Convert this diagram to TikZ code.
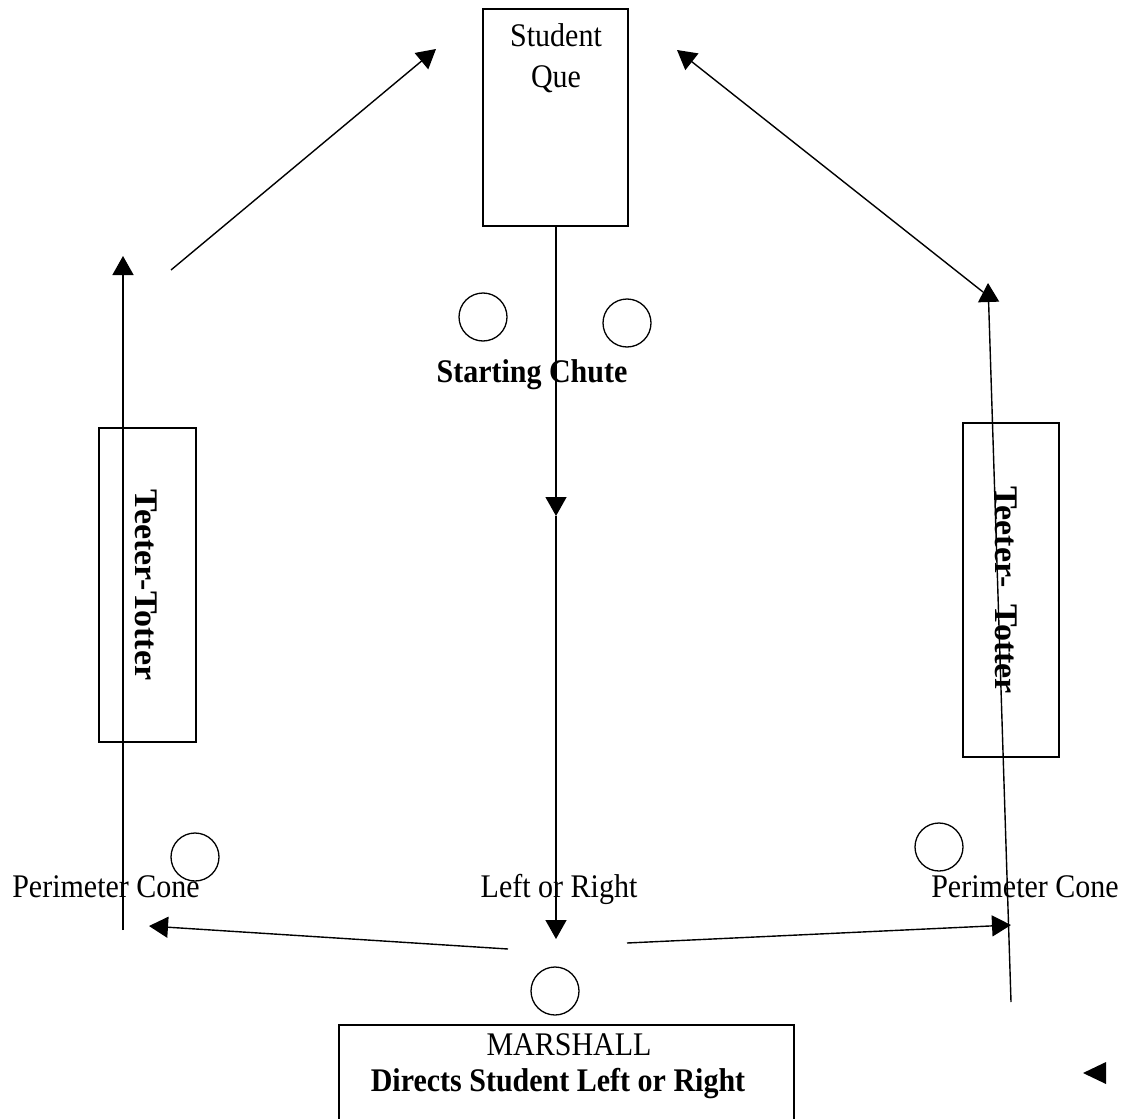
\documentclass[tikz,border=0pt]{standalone}
\usepackage{fontspec}
\setmainfont{Liberation Serif}
\usetikzlibrary{arrows.meta}
\newcommand{\vst}[1]{\scalebox{1}[1.1]{#1}}
\begin{document}
\begin{tikzpicture}[x=1pt,y=-1pt,
  txt/.style={font=\fontsize{30}{36}\selectfont, inner sep=0pt, anchor=base},
  btxt/.style={txt, font=\fontsize{30}{36}\selectfont\bfseries},
  rtxt/.style={inner sep=0pt, rotate=-90, anchor=center, font=\fontsize{33}{40}\selectfont\bfseries},
  box/.style={draw, line width=1.4pt, inner sep=0pt},
  cone/.style={draw, circle, line width=1.3pt, minimum size=48pt, inner sep=0pt},
  conn/.style={line width=1.4pt},
  arr/.style={conn, -{Triangle[length=19pt,width=21pt]}}]
\useasboundingbox (0,0) rectangle (1123,1118);
\clip (0,0) rectangle (1123,1118);
% boxes
\node[box, minimum width=145pt, minimum height=217pt] (que) at (555.5,117.5) {};
\node[txt] (t1) at (556,47) {\vst{Student}};
\node[txt] (t2) at (556,88) {\vst{Que}};
\node[box, minimum width=97pt, minimum height=314pt] (tl) at (147.5,585) {};
\node[rtxt] (tlt) at (146,585) {\scalebox{1.03}[1]{Teeter-Totter}};
\node[box, minimum width=96pt, minimum height=334pt] (tr) at (1011,590) {};
\node[rtxt] (trt) at (1006,590) {\scalebox{1.03}[1]{Teeter-\ \ Totter}};
\node[box, minimum width=455pt, minimum height=140pt] (mar) at (566.5,1095) {};
\node[txt] (m1) at (569,1055) {\vst{MARSHALL}};
\node[btxt] (m2) at (558,1091) {\vst{Directs Student Left or Right}};
% cones
\node[cone] (c1) at (483,317) {};
\node[cone] (c2) at (627,323) {};
\node[cone] (c3) at (195,857) {};
\node[cone] (c4) at (555,991) {};
\node[cone] (c5) at (939,847) {};
% labels
\node[btxt] (sc) at (532,382) {\vst{Starting Chute}};
\node[txt] (pl) at (106,897) {\vst{Perimeter Cone}};
\node[txt] (lr) at (559,897) {\vst{Left or Right}};
\node[txt] (pr) at (1025,897) {\vst{Perimeter Cone}};
% coordinates
\coordinate (mid) at (556,516);
\coordinate (lrtip) at (556,939);
\coordinate (lb) at (123,930);
\coordinate (lt) at (123,256);
\coordinate (ul0) at (171,270);
\coordinate (ul1) at (436,49);
\coordinate (ur0) at (983,292);
\coordinate (ur1) at (677,50);
\coordinate (rb) at (1011,1002);
\coordinate (rt) at (988,283);
\coordinate (bl0) at (508,949);
\coordinate (bl1) at (149,926);
\coordinate (br0) at (627,943);
\coordinate (br1) at (1011,925);
% connectors
\draw[arr] (que.south -| mid) -- (mid);
\draw[arr] (mid) -- (lrtip);
\draw[arr] (lb) -- (lt);
\draw[arr] (ul0) -- (ul1);
\draw[arr] (ur0) -- (ur1);
\draw[arr] (rb) -- (rt);
\draw[arr] (bl0) -- (bl1);
\draw[arr] (br0) -- (br1);
% stray arrowhead
\fill (1083,1073) -- (1106,1062) -- (1106,1084) -- cycle;
\end{tikzpicture}
\end{document}
